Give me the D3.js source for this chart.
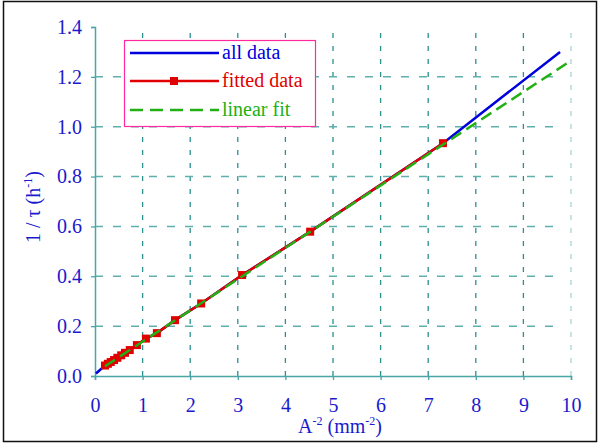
<!DOCTYPE html>
<meta charset="utf-8">
<style>
  body { margin: 0; background: #fff; }
  text { font-family: "Liberation Serif", "Times New Roman", serif; }
</style>
<body>
<script src="https://d3js.org/d3.v7.min.js"></script>
<script>
// fitted data points (A^-2 in mm^-2, 1/tau in h^-1)
var fitX = [0.21, 0.27, 0.33, 0.40, 0.47, 0.55, 0.63, 0.73, 0.88, 1.07, 1.30, 1.68, 2.23, 3.09, 4.52, 7.31];
var fitY = [0.042, 0.049, 0.056, 0.064, 0.073, 0.083, 0.093, 0.104, 0.124, 0.150, 0.172, 0.224, 0.291, 0.405, 0.579, 0.934];
// all data = fitted points plus the ends
var allX = [0.02].concat(fitX, [9.77]);
var allY = [0.010].concat(fitY, [1.300]);
// linear fit end points
var lineX = [0.21, 10];
var lineY = [0.039, 1.265];

var xTicks = [0, 1, 2, 3, 4, 5, 6, 7, 8, 9, 10];
var yTicks = [0, 0.2, 0.4, 0.6, 0.8, 1.0, 1.2, 1.4];

var width = 598, height = 444;
var blue = "#0000dd", red = "#e00000", green = "#22b014", teal = "#2a9090";
var fs = "20px";

var svg = d3.select("body").append("svg")
    .attr("width", width)
    .attr("height", height);

// outer frame
svg.append("rect")
    .attr("x", 3.5).attr("y", 1.5)
    .attr("width", 593).attr("height", 440)
    .attr("fill", "none").attr("stroke", "#111").attr("stroke-width", 1.5);

var x = d3.scaleLinear().domain([0, 10]).range([95, 571]);
var y = d3.scaleLinear().domain([0, 1.4]).range([376, 27]);

// grid
svg.append("g").selectAll("line")
    .data(xTicks.slice(1))
    .enter().append("line")
    .attr("x1", d => x(d)).attr("x2", d => x(d))
    .attr("y1", y(0)).attr("y2", y(1.4))
    .attr("stroke", d => d == 10 ? "#a8d4d4" : teal)
    .attr("stroke-width", 1.3)
    .attr("stroke-dasharray", "5,8");

svg.append("g").selectAll("line")
    .data(yTicks.slice(1, -1))
    .enter().append("line")
    .attr("x1", x(0)).attr("x2", x(9.8))
    .attr("y1", d => y(d)).attr("y2", d => y(d))
    .attr("stroke", "#5fb0ac")
    .attr("stroke-width", 1.5)
    .attr("stroke-dasharray", "8,10");

// axes
var xAxis = d3.axisBottom(x).tickValues(xTicks).tickSize(4).tickFormat(d3.format("d"));
var yAxis = d3.axisLeft(y).tickValues(yTicks).tickSize(4).tickFormat(d3.format(".1f"));

var gx = svg.append("g").attr("transform", "translate(0," + y(0) + ")").call(xAxis);
var gy = svg.append("g").attr("transform", "translate(" + x(0) + ",0)").call(yAxis);

[gx, gy].forEach(function(g) {
  g.select(".domain").attr("stroke", "#4aa5a5").attr("stroke-width", 1.5);
  g.selectAll(".tick line").attr("stroke", "#4aa5a5").attr("stroke-width", 1.3);
  g.selectAll(".tick text")
    .attr("fill", "#1a1acc")
    .style("font-family", "'Liberation Serif', serif")
    .style("font-size", fs);
});
gx.selectAll(".tick text").attr("y", 0).attr("dy", 0).attr("transform", "translate(0,36)");
gy.selectAll(".tick text").attr("x", -13);

// axis titles
var xt = svg.append("text")
    .attr("x", 340).attr("y", 433)
    .attr("text-anchor", "middle")
    .attr("fill", "#1a1acc")
    .style("font-size", fs);
xt.append("tspan").text("A");
xt.append("tspan").attr("dy", -8).style("font-size", "12px").text("-2");
xt.append("tspan").attr("dy", 8).text(" (mm");
xt.append("tspan").attr("dy", -8).style("font-size", "12px").text("-2");
xt.append("tspan").attr("dy", 8).text(")");

var yt = svg.append("text")
    .attr("transform", "translate(40,207) rotate(-90)")
    .attr("text-anchor", "middle")
    .attr("fill", "#1a1acc")
    .style("font-size", fs);
yt.append("tspan").text("1 / \u03C4 (h");
yt.append("tspan").attr("dy", -8).style("font-size", "12px").text("-1");
yt.append("tspan").attr("dy", 8).text(")");

// series
var line = d3.line().x(d => x(d[0])).y(d => y(d[1]));

svg.append("path")
    .datum(d3.zip(allX, allY))
    .attr("d", line)
    .attr("fill", "none").attr("stroke", blue).attr("stroke-width", 2.5);

svg.append("path")
    .datum(d3.zip(fitX, fitY))
    .attr("d", line)
    .attr("fill", "none").attr("stroke", red).attr("stroke-width", 2.5);

svg.append("g").selectAll("rect")
    .data(d3.zip(fitX, fitY))
    .enter().append("rect")
    .attr("x", d => x(d[0]) - 4).attr("y", d => y(d[1]) - 4)
    .attr("width", 8).attr("height", 8)
    .attr("fill", red);

svg.append("path")
    .datum(d3.zip(lineX, lineY))
    .attr("d", line)
    .attr("fill", "none").attr("stroke", green).attr("stroke-width", 2.5)
    .attr("stroke-dasharray", "12,6");

// legend
var leg = svg.append("g");
leg.append("rect")
    .attr("x", 124.5).attr("y", 40.5)
    .attr("width", 191).attr("height", 86)
    .attr("fill", "#fff").attr("stroke", "#ff2a9d").attr("stroke-width", 1.2);

var legItems = [
  {name: "all data", color: blue, dash: null, mark: false, yy: 53},
  {name: "fitted data", color: red, dash: null, mark: true, yy: 81},
  {name: "linear fit", color: green, dash: "13,7", mark: false, yy: 110}
];
legItems.forEach(function(it) {
  leg.append("line")
    .attr("x1", 130).attr("x2", 219)
    .attr("y1", it.yy).attr("y2", it.yy)
    .attr("stroke", it.color).attr("stroke-width", 2.5)
    .attr("stroke-dasharray", it.dash);
  if (it.mark) {
    leg.append("rect")
      .attr("x", 170).attr("y", it.yy - 4)
      .attr("width", 8).attr("height", 8)
      .attr("fill", it.color);
  }
  leg.append("text")
    .attr("x", 222).attr("y", it.yy + 6)
    .attr("fill", it.color)
    .style("font-size", fs)
    .text(it.name);
});
</script>
</body>
